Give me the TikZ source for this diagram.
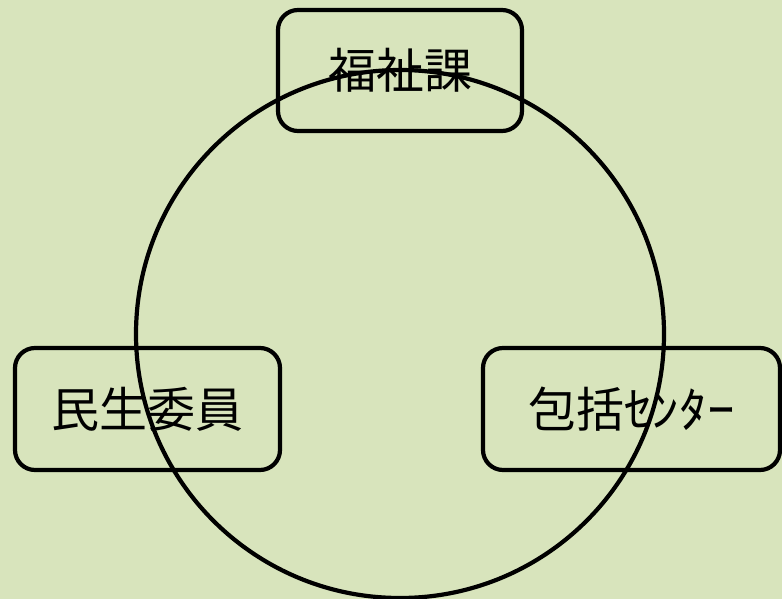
\documentclass[tikz,border=0pt]{standalone}
\usepackage{fontspec}
\usepackage{graphicx}
\newfontfamily\cjk{Noto Sans CJK JP}
\definecolor{bg}{HTML}{D8E4BC}
\begin{document}
\begin{tikzpicture}[x=1pt,y=-1pt,
  lbl/.style={draw=black,line width=4.2pt,rounded corners=20pt,inner sep=0pt,font=\cjk\fontsize{48}{52}\selectfont},
  ring/.style={draw=black,line width=4.2pt}]
\fill[bg] (0,0) rectangle (782,599);
\useasboundingbox (0,0) rectangle (782,599);
\node[lbl,minimum width=244pt,minimum height=121pt] (fukushi) at (400,70.5) {福祉課};
\node[lbl,minimum width=265pt,minimum height=122pt] (minsei) at (147.5,409) {民生委員};
\node[lbl,minimum width=297pt,minimum height=122pt] (houkatsu) at (631.5,409) {包括\scalebox{1.15}[1]{ｾﾝﾀｰ}};
\coordinate (c) at (400,334);
\draw[ring] (c) circle[radius=264pt];
\end{tikzpicture}
\end{document}
